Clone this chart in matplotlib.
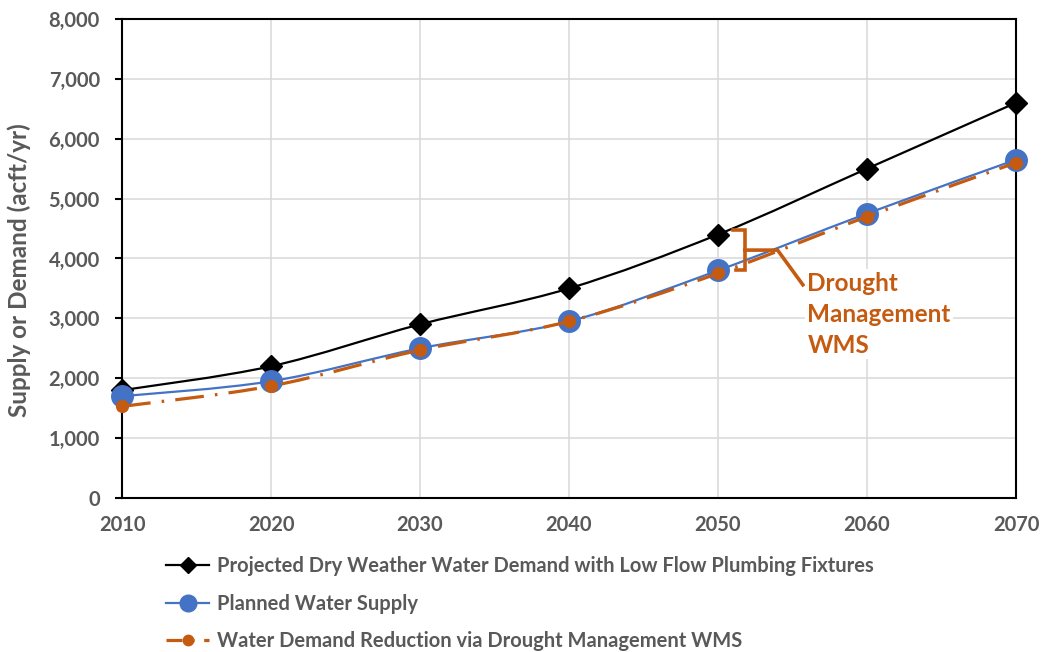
import numpy as np
import matplotlib
matplotlib.use('Agg')
from matplotlib import pyplot as plt
from matplotlib.path import Path
from matplotlib.patches import PathPatch
from matplotlib.lines import Line2D
from matplotlib.ticker import FuncFormatter

# values
years = [2010, 2020, 2030, 2040, 2050, 2060, 2070]
demand = [1800, 2200, 2900, 3500, 4400, 5500, 6600]
supply = [1700, 1950, 2500, 2950, 3800, 4750, 5650]
drought = [1530, 1870, 2470, 2950, 3750, 4700, 5600]

labels = ['Projected Dry Weather Water Demand with Low Flow Plumbing Fixtures',
          'Planned Water Supply',
          'Water Demand Reduction via Drought Management WMS']

GRAY = '#595959'
BLUE = '#4472C4'
ORANGE = '#C55A11'

plt.rcParams['font.family'] = ['Lato', 'DejaVu Sans']


def smooth_path(x, y):
    """excel-like smoothed line: catmull-rom segments as cubic beziers"""
    pts = np.column_stack([x, y]).astype(float)
    ext = np.vstack([pts[0], pts, pts[-1]])
    verts = [pts[0]]
    codes = [Path.MOVETO]
    for i in range(1, len(ext) - 2):
        p0, p1, p2, p3 = ext[i - 1], ext[i], ext[i + 1], ext[i + 2]
        verts += [p1 + (p2 - p0) / 6.0, p2 - (p3 - p1) / 6.0, p2]
        codes += [Path.CURVE4] * 3
    return Path(verts, codes)


def add_curve(ax, x, y, **kw):
    patch = PathPatch(smooth_path(x, y), fill=False, transform=ax.transData, **kw)
    ax.add_patch(patch)
    return patch


def main():
    fig = plt.figure(figsize=(10.42, 6.52), dpi=100)
    ax = fig.add_axes([0.1171, 0.2362, 0.8579, 0.7347])

    ax.set_xlim(2010, 2070)
    ax.set_ylim(0, 8000)
    ax.set_xticks(years)
    ax.set_yticks(np.arange(0, 8001, 1000))
    ax.yaxis.set_major_formatter(FuncFormatter(lambda v, p: f'{int(v):,}'))
    ax.grid(True, color='#d9d9d9', lw=1.1)
    ax.set_axisbelow(True)
    for s in ax.spines.values():
        s.set_color('black')
        s.set_linewidth(1.5)
    ax.tick_params(axis='x', length=0, pad=12, labelsize=14.5, labelcolor=GRAY)
    ax.tick_params(axis='y', length=5, width=1.5, pad=11, labelsize=14.5, labelcolor=GRAY)
    for t in ax.get_xticklabels() + ax.get_yticklabels():
        t.set_fontweight('bold')
    ax.set_ylabel('Supply or Demand (acft/yr)', fontsize=17.5, fontweight='bold',
                  color=GRAY)
    ax.yaxis.set_label_coords(-0.102, 0.475)

    # demand
    add_curve(ax, years, demand, edgecolor='black', lw=1.6, zorder=3)
    ax.plot(years, demand, ls='none', marker='D', ms=11.5, color='black', zorder=4,
            clip_on=False)
    # supply
    add_curve(ax, years, supply, edgecolor=BLUE, lw=1.6, zorder=3)
    ax.plot(years, supply, ls='none', marker='o', ms=15.5, color=BLUE, zorder=4,
            clip_on=False)
    # drought management
    add_curve(ax, years, drought, edgecolor=ORANGE, lw=2.3, zorder=5,
              linestyle=(0, (9, 3.5, 0.8, 3.5)))
    ax.plot(years, drought, ls='none', marker='o', ms=8.5, color=ORANGE, zorder=6,
            clip_on=False)

    # bracket annotation
    bx, btop, bbot, bmid = 2051.8, 4480, 3810, 4140
    ax.plot([2051.0, bx, bx, 2051.2], [btop, btop, bbot, bbot], color=ORANGE,
            lw=2.6, zorder=7, solid_joinstyle='miter')
    ax.plot([bx, 2054.0, 2055.7], [bmid, bmid, 3560], color=ORANGE, lw=2.6, zorder=7)
    ax.text(2056.0, 3780, 'Drought\nManagement\nWMS', color=ORANGE, fontsize=17.5,
            fontweight='bold', va='top', ha='left', linespacing=1.42, zorder=8,
            bbox=dict(facecolor='white', edgecolor='none', pad=2))

    handles = [
        Line2D([0], [0], color='black', lw=1.6, marker='D', ms=8),
        Line2D([0], [0], color=BLUE, lw=1.6, marker='o', ms=12),
        Line2D([0], [0], color=ORANGE, lw=2.3, marker='o', ms=7.5,
               linestyle=(0, (5, 3, 0.8, 3))),
    ]
    leg = fig.legend(handles=handles, labels=labels, loc='upper left',
                     bbox_to_anchor=(0.152, 0.159), frameon=False, fontsize=14.5,
                     handlelength=2.1, handletextpad=0.4, labelspacing=0.87,
                     borderaxespad=0)
    for t in leg.get_texts():
        t.set_color(GRAY)
        t.set_fontweight('bold')

    fig.savefig('out.png', dpi=100)


if __name__ == '__main__':
    main()
